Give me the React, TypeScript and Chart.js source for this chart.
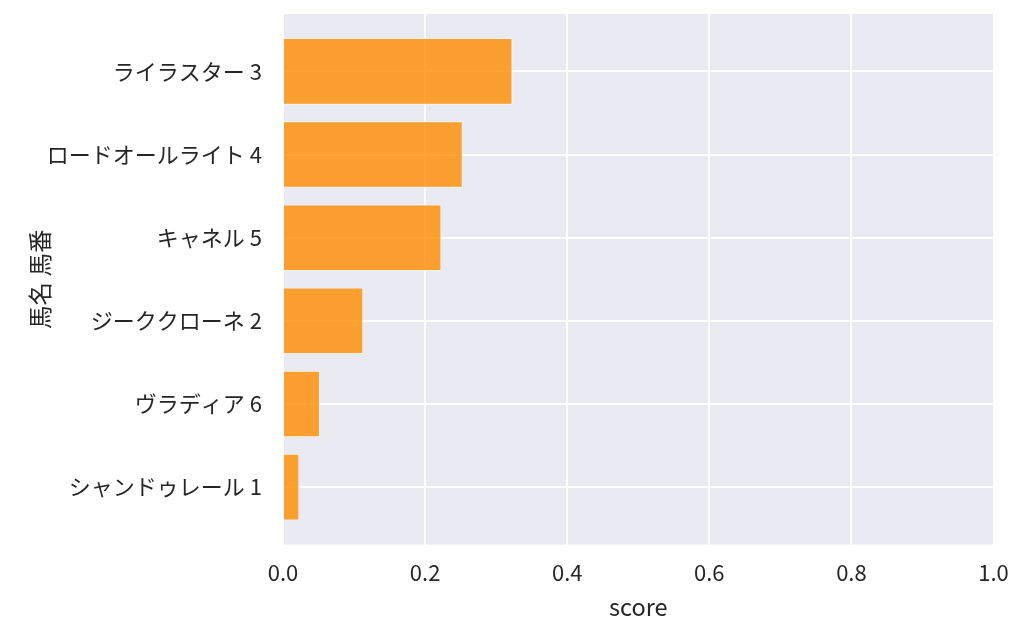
import Chart from "chart.js/auto";
import { useEffect, useRef } from "react";

const horses = [
  "ライラスター 3",
  "ロードオールライト 4",
  "キャネル 5",
  "ジーククローネ 2",
  "ヴラディア 6",
  "シャンドゥレール 1",
];
const scores = [0.323, 0.253, 0.223, 0.113, 0.052, 0.023];
const xTicks = [0, 0.2, 0.4, 0.6, 0.8, 1.0];

const FONT = "'Noto Sans CJK JP', 'Noto Sans', sans-serif";
const TEXT = "#262626";

const plotBg = {
  id: "plotBg",
  beforeDraw(chart: Chart) {
    const { ctx, chartArea } = chart;
    ctx.save();
    ctx.fillStyle = "#EAEAF2";
    ctx.fillRect(
      chartArea.left,
      chartArea.top,
      chartArea.right - chartArea.left,
      chartArea.bottom - chartArea.top
    );
    ctx.restore();
  },
};

export default function App() {
  const ref = useRef<HTMLCanvasElement | null>(null);
  useEffect(() => {
    document.body.style.margin = "0";
    if (!ref.current) return;
    const chart = new Chart(ref.current, {
      type: "bar",
      data: {
        datasets: [
          {
            data: scores.map((v, i) => ({ x: v, y: i })),
            backgroundColor: "rgba(255,140,0,0.8)",
            borderColor: "rgba(255,245,230,0.9)",
            borderWidth: 1,
            barPercentage: 0.8,
            categoryPercentage: 1,
          },
        ],
      },
      options: {
        indexAxis: "y",
        animation: false,
        responsive: false,
        layout: { padding: { top: 14, right: 30.5, left: 0, bottom: 0 } },
        plugins: { legend: { display: false }, tooltip: { enabled: false } },
        scales: {
          x: {
            type: "linear",
            min: 0,
            max: 1,
            afterBuildTicks: (s: any) => {
              s.ticks = xTicks.map((v) => ({ value: v }));
            },
            afterFit: (s: any) => {
              s.height = 89.5;
              s.paddingLeft = 0;
              s.paddingRight = 0;
            },
            grid: { color: "#FFFFFF", lineWidth: 2, drawTicks: false },
            border: { display: false },
            ticks: {
              padding: 15,
              color: TEXT,
              font: { family: FONT, size: 22 },
              callback: (v: any) => Number(v).toFixed(1),
            },
            title: {
              display: true,
              text: "score",
              color: TEXT,
              font: { family: FONT, size: 23.5 },
              padding: { bottom: 13, top: 0 },
            },
          },
          y: {
            type: "linear",
            reverse: true,
            offset: false,
            min: -0.69,
            max: 5.69,
            afterBuildTicks: (s: any) => {
              s.ticks = horses.map((_, i) => ({ value: i }));
            },
            afterFit: (s: any) => {
              s.width = 283;
              s.paddingTop = 0;
              s.paddingBottom = 0;
            },
            grid: { color: "#FFFFFF", lineWidth: 2, drawTicks: false, offset: false },
            border: { display: false },
            ticks: {
              padding: 21,
              color: TEXT,
              font: { family: FONT, size: 22 },
              callback: (v: any) => horses[v] ?? "",
            },
            title: {
              display: true,
              text: "馬名 馬番",
              color: TEXT,
              font: { family: FONT, size: 23.5 },
              padding: { top: 26, bottom: 0 },
            },
          },
        },
      },
      plugins: [plotBg],
    });
    return () => chart.destroy();
  }, []);

  return <canvas ref={ref} width={1024} height={634} style={{ display: "block" }}></canvas>;
}
